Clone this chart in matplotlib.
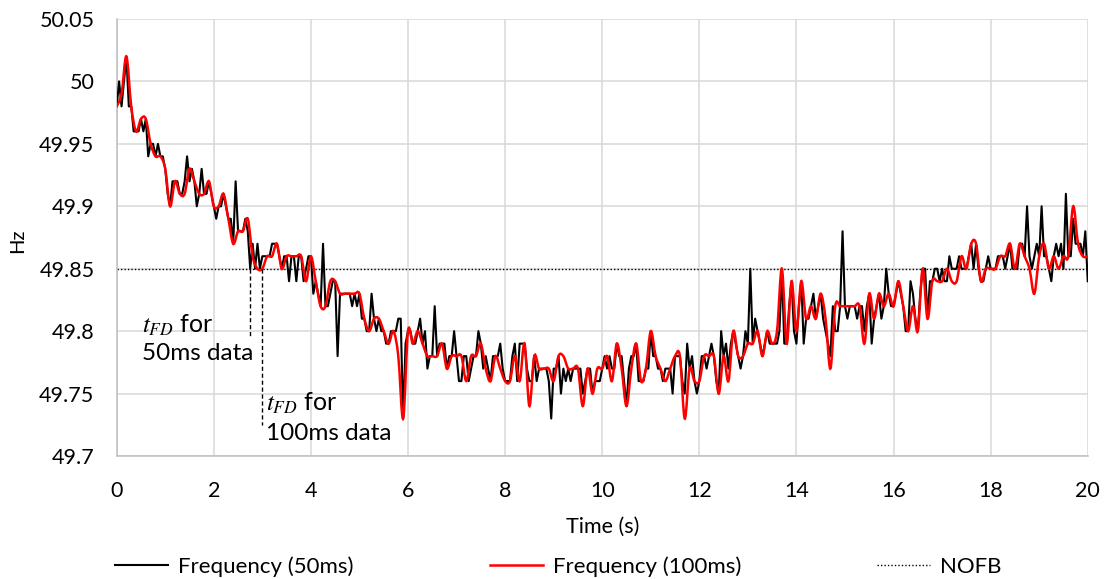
import numpy as np
import matplotlib
matplotlib.use("Agg")
import matplotlib.pyplot as plt
from matplotlib.path import Path
from matplotlib.patches import PathPatch
from matplotlib.lines import Line2D

plt.rcParams['font.family'] = ['Lato', 'DejaVu Sans']
plt.rcParams['mathtext.fontset'] = 'stix'

# frequency sampled every 50 ms (Hz), one row per second
freq_50ms = [
    49.98, 50.00, 49.98, 50.00, 50.02, 49.98, 49.98, 49.96, 49.96, 49.96, 49.97, 49.96, 49.97, 49.94, 49.95, 49.95, 49.94, 49.95, 49.94, 49.94,
    49.93, 49.91, 49.90, 49.92, 49.92, 49.92, 49.91, 49.91, 49.92, 49.94, 49.92, 49.93, 49.92, 49.90, 49.91, 49.93, 49.91, 49.91, 49.92, 49.91,
    49.90, 49.89, 49.90, 49.90, 49.91, 49.90, 49.89, 49.89, 49.87, 49.92, 49.88, 49.88, 49.88, 49.89, 49.88, 49.85, 49.87, 49.85, 49.87, 49.85,
    49.86, 49.86, 49.86, 49.86, 49.87, 49.87, 49.87, 49.86, 49.85, 49.86, 49.86, 49.84, 49.86, 49.86, 49.84, 49.86, 49.86, 49.84, 49.85, 49.86,
    49.86, 49.83, 49.84, 49.83, 49.82, 49.87, 49.82, 49.82, 49.83, 49.84, 49.84, 49.78, 49.83, 49.83, 49.83, 49.83, 49.83, 49.82, 49.83, 49.82,
    49.83, 49.81, 49.81, 49.80, 49.80, 49.83, 49.81, 49.80, 49.81, 49.80, 49.80, 49.79, 49.79, 49.80, 49.80, 49.80, 49.81, 49.81, 49.73, 49.79,
    49.80, 49.80, 49.79, 49.79, 49.80, 49.81, 49.79, 49.80, 49.77, 49.78, 49.78, 49.82, 49.78, 49.79, 49.79, 49.79, 49.77, 49.78, 49.78, 49.80,
    49.78, 49.76, 49.76, 49.78, 49.78, 49.76, 49.77, 49.78, 49.78, 49.80, 49.79, 49.77, 49.78, 49.77, 49.76, 49.78, 49.78, 49.78, 49.79, 49.77,
    49.76, 49.76, 49.76, 49.78, 49.79, 49.76, 49.79, 49.79, 49.79, 49.77, 49.76, 49.76, 49.78, 49.76, 49.77, 49.77, 49.77, 49.77, 49.76, 49.73,
    49.77, 49.77, 49.78, 49.75, 49.77, 49.76, 49.77, 49.76, 49.77, 49.77, 49.77, 49.77, 49.75, 49.76, 49.77, 49.77, 49.75, 49.76, 49.76, 49.76,
    49.77, 49.78, 49.77, 49.78, 49.77, 49.77, 49.79, 49.78, 49.78, 49.76, 49.74, 49.77, 49.78, 49.78, 49.79, 49.76, 49.76, 49.76, 49.77, 49.77,
    49.80, 49.78, 49.78, 49.77, 49.77, 49.76, 49.77, 49.77, 49.77, 49.75, 49.78, 49.78, 49.78, 49.76, 49.75, 49.79, 49.77, 49.78, 49.76, 49.75,
    49.76, 49.78, 49.78, 49.77, 49.78, 49.79, 49.78, 49.76, 49.75, 49.80, 49.78, 49.79, 49.77, 49.79, 49.80, 49.79, 49.78, 49.77, 49.78, 49.80,
    49.79, 49.85, 49.79, 49.81, 49.80, 49.79, 49.78, 49.79, 49.80, 49.79, 49.79, 49.79, 49.79, 49.80, 49.85, 49.79, 49.79, 49.82, 49.84, 49.80,
    49.79, 49.82, 49.84, 49.79, 49.81, 49.81, 49.82, 49.83, 49.81, 49.82, 49.83, 49.81, 49.80, 49.79, 49.78, 49.82, 49.80, 49.80, 49.82, 49.88,
    49.82, 49.81, 49.82, 49.82, 49.82, 49.81, 49.82, 49.82, 49.80, 49.82, 49.83, 49.79, 49.81, 49.82, 49.83, 49.81, 49.82, 49.85, 49.83, 49.82,
    49.82, 49.83, 49.84, 49.83, 49.82, 49.80, 49.80, 49.84, 49.83, 49.81, 49.80, 49.83, 49.85, 49.85, 49.81, 49.84, 49.84, 49.85, 49.85, 49.84,
    49.85, 49.84, 49.84, 49.86, 49.85, 49.85, 49.85, 49.86, 49.85, 49.85, 49.85, 49.86, 49.87, 49.85, 49.87, 49.85, 49.84, 49.84, 49.85, 49.86,
    49.85, 49.85, 49.85, 49.86, 49.86, 49.86, 49.85, 49.86, 49.87, 49.85, 49.85, 49.85, 49.87, 49.87, 49.86, 49.90, 49.86, 49.85, 49.86, 49.87,
    49.86, 49.90, 49.86, 49.86, 49.85, 49.84, 49.86, 49.87, 49.86, 49.87, 49.85, 49.91, 49.86, 49.86, 49.89, 49.87, 49.87, 49.87, 49.86, 49.88,
    49.84,
]

# frequency sampled every 100 ms (Hz)
freq_100ms = [
    49.98, 49.99, 50.02, 49.98, 49.96, 49.97, 49.97, 49.95, 49.94, 49.94,
    49.93, 49.90, 49.92, 49.91, 49.91, 49.93, 49.92, 49.91, 49.91, 49.92,
    49.90, 49.90, 49.91, 49.89, 49.87, 49.88, 49.88, 49.89, 49.86, 49.85,
    49.85, 49.86, 49.86, 49.87, 49.85, 49.86, 49.86, 49.86, 49.86, 49.84,
    49.86, 49.84, 49.82, 49.82, 49.84, 49.84, 49.83, 49.83, 49.83, 49.83,
    49.83, 49.81, 49.80, 49.81, 49.81, 49.80, 49.79, 49.80, 49.78, 49.73,
    49.80, 49.79, 49.80, 49.79, 49.78, 49.78, 49.78, 49.79, 49.77, 49.78,
    49.78, 49.78, 49.76, 49.78, 49.78, 49.79, 49.77, 49.76, 49.78, 49.77,
    49.76, 49.76, 49.78, 49.76, 49.79, 49.74, 49.78, 49.77, 49.77, 49.77,
    49.76, 49.78, 49.78, 49.77, 49.77, 49.77, 49.74, 49.77, 49.75, 49.77,
    49.77, 49.78, 49.76, 49.79, 49.77, 49.74, 49.77, 49.79, 49.76, 49.77,
    49.80, 49.78, 49.77, 49.76, 49.77, 49.78, 49.78, 49.73, 49.77, 49.76,
    49.76, 49.78, 49.78, 49.78, 49.75, 49.78, 49.76, 49.80, 49.78, 49.78,
    49.79, 49.79, 49.80, 49.78, 49.80, 49.79, 49.80, 49.85, 49.79, 49.84,
    49.80, 49.84, 49.81, 49.82, 49.81, 49.83, 49.81, 49.77, 49.82, 49.82,
    49.82, 49.82, 49.82, 49.82, 49.79, 49.83, 49.81, 49.83, 49.82, 49.83,
    49.82, 49.84, 49.82, 49.80, 49.82, 49.80, 49.85, 49.81, 49.84, 49.84,
    49.84, 49.85, 49.84, 49.84, 49.86, 49.85, 49.87, 49.87, 49.84, 49.85,
    49.85, 49.85, 49.86, 49.86, 49.87, 49.85, 49.87, 49.86, 49.85, 49.83,
    49.86, 49.87, 49.85, 49.86, 49.85, 49.86, 49.86, 49.90, 49.87, 49.86,
    49.86,
]

nofb = 49.85
tfd_50ms = 2.75
tfd_100ms = 3.0
x_ticks = [0, 2, 4, 6, 8, 10, 12, 14, 16, 18, 20]
y_ticks = [49.7, 49.75, 49.8, 49.85, 49.9, 49.95, 50.0, 50.05]
y_tick_labels = ["49.7", "49.75", "49.8", "49.85", "49.9", "49.95", "50", "50.05"]

t_50 = np.arange(len(freq_50ms)) * 0.05
t_100 = np.arange(len(freq_100ms)) * 0.1


def smooth_path(x, y):
    # excel-style smoothed line: catmull-rom segments as cubic beziers
    n = len(x)
    verts = [(x[0], y[0])]
    codes = [Path.MOVETO]
    for i in range(n - 1):
        p0 = max(i - 1, 0)
        p3 = min(i + 2, n - 1)
        c1 = (x[i] + (x[i + 1] - x[p0]) / 6, y[i] + (y[i + 1] - y[p0]) / 6)
        c2 = (x[i + 1] - (x[p3] - x[i]) / 6, y[i + 1] - (y[p3] - y[i]) / 6)
        verts += [c1, c2, (x[i + 1], y[i + 1])]
        codes += [Path.CURVE4] * 3
    return Path(verts, codes)


fig = plt.figure(figsize=(11.07, 5.79), dpi=100)
ax = fig.add_axes([0.1054, 0.2124, 0.8772, 0.7548])

ax.set_xlim(0, 20)
ax.set_ylim(49.7, 50.05)
ax.set_xticks(x_ticks)
ax.set_yticks(y_ticks)
ax.set_yticklabels(y_tick_labels)
ax.tick_params(axis='both', length=0, labelsize=15.5)
ax.tick_params(axis='y', pad=16)
ax.tick_params(axis='x', pad=18)
ax.grid(True, color='#d9d9d9', linewidth=1.1, zorder=0)
ax.set_axisbelow(True)
for side in ['top', 'right']:
    ax.spines[side].set_visible(False)
for side in ['left', 'bottom']:
    ax.spines[side].set_color('#bfbfbf')
    ax.spines[side].set_linewidth(1.1)

ax.axhline(nofb, color='black', linestyle=(0, (1, 1.5)), linewidth=1.0, zorder=2)
ax.plot(t_50, freq_50ms, color='black', linewidth=1.5, zorder=3)
ax.add_patch(PathPatch(smooth_path(t_100, freq_100ms), fill=False,
                       edgecolor='#ff0000', linewidth=1.8, zorder=4))

# fault detection markers
ax.plot([tfd_50ms, tfd_50ms], [nofb, 49.796], color='black',
        linestyle=(0, (3, 2)), linewidth=1.0, zorder=5)
ax.plot([tfd_100ms, tfd_100ms], [nofb, 49.725], color='black',
        linestyle=(0, (3, 2)), linewidth=1.0, zorder=5)
ax.text(0.53, 49.805, r"$t_{FD}$ for", fontsize=18, va='center', ha='left')
ax.text(0.53, 49.782, "50ms data", fontsize=17.5, va='center', ha='left')
ax.text(3.07, 49.742, r"$t_{FD}$ for", fontsize=18, va='center', ha='left')
ax.text(3.07, 49.718, "100ms data", fontsize=17.5, va='center', ha='left')

fig.text(0.544, 0.0904, "Time (s)", fontsize=15.5, ha='center', va='center')
fig.text(0.0157, 0.584, "Hz", fontsize=14.5, rotation=90, ha='center', va='center')

# legend entries placed individually to match spacing
entries = [
    (Line2D([], [], color='black', linewidth=1.5), "Frequency (50ms)", 115 / 1107),
    (Line2D([], [], color='#ff0000', linewidth=1.8), "Frequency (100ms)", 490 / 1107),
    (Line2D([], [], color='black', linestyle=(0, (1, 1.5)), linewidth=1.0), "NOFB", 877 / 1107),
]
for handle, label, xpos in entries:
    fig.legend([handle], [label], loc='center left', bbox_to_anchor=(xpos, 0.021),
               frameon=False, fontsize=16, handlelength=2.4, handletextpad=0.45,
               borderpad=0, borderaxespad=0)

fig.savefig("out.png", dpi=100)
